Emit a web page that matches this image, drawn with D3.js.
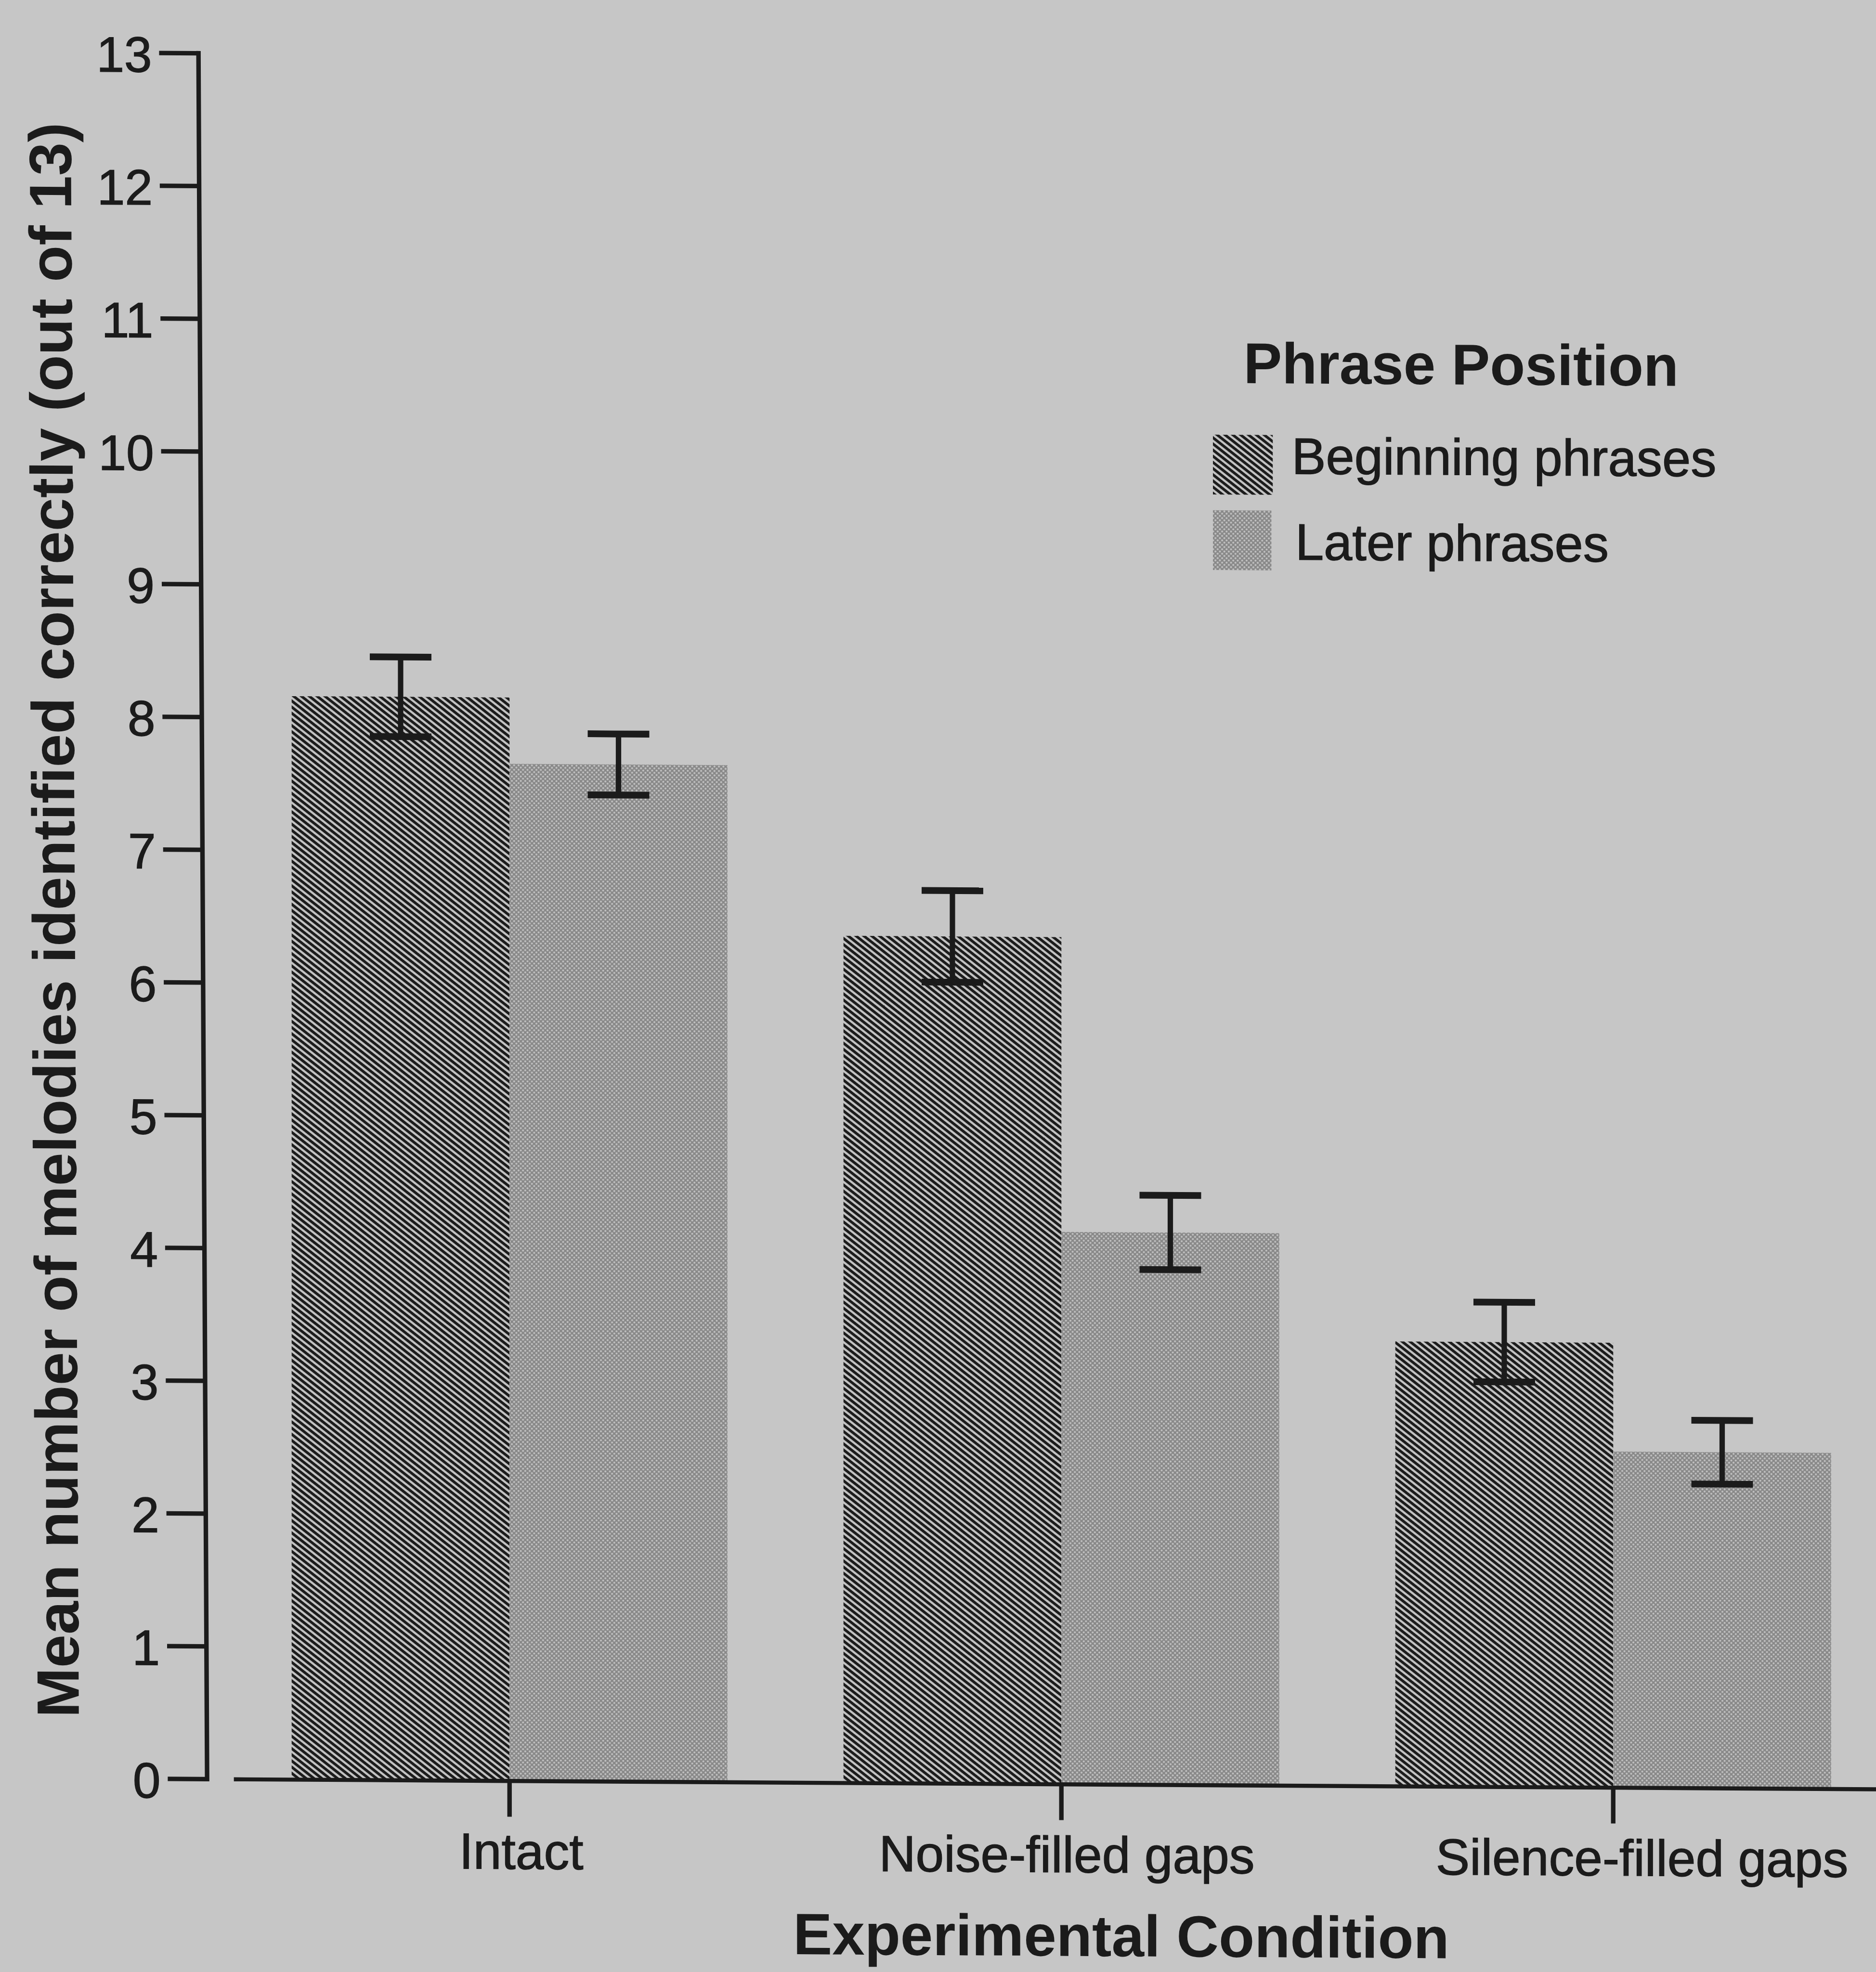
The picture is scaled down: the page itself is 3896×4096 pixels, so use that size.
<!DOCTYPE html>
<html>
<head>
<meta charset="utf-8">
<script src="https://cdn.jsdelivr.net/npm/d3@7"></script>
<style>
  html, body { margin: 0; padding: 0; background: #c6c6c6; }
  svg { display: block; }
  text { font-family: "Liberation Sans", Arial, Helvetica, sans-serif; fill: #1b1b1b; }
</style>
</head>
<body>
<script>
// data
const categories = ["Intact", "Noise-filled gaps", "Silence-filled gaps"];
const seriesNames = ["Beginning phrases", "Later phrases"];
const beginningMeans = [8.16, 6.38, 3.35];
const beginningErrors = [0.30, 0.345, 0.30];
const laterMeans = [7.66, 4.16, 2.53];
const laterErrors = [0.23, 0.28, 0.24];
const yTickValues = [0, 1, 2, 3, 4, 5, 6, 7, 8, 9, 10, 11, 12, 13];

const rows = categories.map((c, i) => ({
  category: c,
  values: [
    {series: seriesNames[0], mean: beginningMeans[i], err: beginningErrors[i]},
    {series: seriesNames[1], mean: laterMeans[i], err: laterErrors[i]}
  ]
}));

const W = 3896, H = 4096, S = 0.934;
const ink = "#1b1b1b";

const svg = d3.select("body").append("svg").attr("width", W).attr("height", H);
svg.append("rect").attr("width", W).attr("height", H).attr("fill", "#c6c6c6");

// fill patterns
const defs = svg.append("defs");
const pBegin = defs.append("pattern").attr("id", "pat-begin")
  .attr("patternUnits", "userSpaceOnUse")
  .attr("width", 40).attr("height", 10.8)
  .attr("patternTransform", "rotate(38)");
pBegin.append("rect").attr("width", 40).attr("height", 10.8).attr("fill", "#c3c3c3");
pBegin.append("rect").attr("width", 40).attr("height", 6.0).attr("fill", "#1c1c1c");

const pLater = defs.append("pattern").attr("id", "pat-later")
  .attr("patternUnits", "userSpaceOnUse")
  .attr("width", 7).attr("height", 7)
  .attr("patternTransform", "rotate(45)");
pLater.append("rect").attr("width", 7).attr("height", 7).attr("fill", "#888888");
pLater.append("circle").attr("cx", 3.5).attr("cy", 3.5).attr("r", 2.2).attr("fill", "#c2c2c2");

const fills = {"Beginning phrases": "url(#pat-begin)", "Later phrases": "url(#pat-later)"};

// everything is laid out in the reference's pixel space, then scaled
const root = svg.append("g").attr("transform", `scale(${S})`);
// the scanned page is slightly sheared
const b = 0.0061, a = 0.005;
const g = root.append("g").attr("transform", `matrix(1,${b},0,1,0,${-b * 460})`);

const y = d3.scaleLinear().domain([0, 13]).range([3956, 118]);
const x0 = d3.scaleBand().domain(categories).range([519.5, 4200.5]);
const x1 = d3.scaleBand().domain(seriesNames).range([129, 1098]);

// bars
const groups = g.selectAll(".grp").data(rows).join("g")
  .attr("class", "grp")
  .attr("transform", d => `translate(${x0(d.category)},0)`);

groups.selectAll("rect").data(d => d.values).join("rect")
  .attr("x", d => x1(d.series))
  .attr("y", d => y(d.mean))
  .attr("width", x1.bandwidth())
  .attr("height", d => y(0) - y(d.mean))
  .attr("fill", d => fills[d.series]);

// error bars
const capW = 137;
const eb = groups.selectAll(".err").data(d => d.values).join("g").attr("class", "err");
eb.append("line")
  .attr("x1", d => x1(d.series) + x1.bandwidth() / 2)
  .attr("x2", d => x1(d.series) + x1.bandwidth() / 2)
  .attr("y1", d => y(d.mean + d.err))
  .attr("y2", d => y(d.mean - d.err))
  .attr("stroke", ink).attr("stroke-width", 12);
eb.selectAll(".cap").data(d => [
    {cx: x1(d.series) + x1.bandwidth() / 2, v: d.mean + d.err},
    {cx: x1(d.series) + x1.bandwidth() / 2, v: d.mean - d.err}])
  .join("line").attr("class", "cap")
  .attr("x1", d => d.cx - capW / 2)
  .attr("x2", d => d.cx + capW / 2)
  .attr("y1", d => y(d.v))
  .attr("y2", d => y(d.v))
  .attr("stroke", ink).attr("stroke-width", 15);

// y axis (leans a little on the scan)
const yg = g.append("g")
  .attr("transform", `matrix(1,0,${a},1,${460 - a * 3956},0)`)
  .call(d3.axisLeft(y).tickValues(yTickValues).tickSize(87).tickSizeOuter(0)
    .tickPadding(16).tickFormat(d3.format("d")));
yg.attr("font-family", null);
yg.select(".domain").attr("stroke", ink).attr("stroke-width", 10).attr("stroke-linecap", "square");
yg.selectAll(".tick line").attr("stroke", ink).attr("stroke-width", 10);
yg.selectAll(".tick text").attr("font-size", 111).attr("fill", ink).attr("dy", "0.38em")
  .attr("stroke", ink).attr("stroke-width", 1.5);

yg.append("text")
  .attr("transform", `translate(${176 - 460},2048) rotate(-90)`)
  .attr("text-anchor", "middle")
  .attr("font-size", 133)
  .attr("font-weight", "bold")
  .attr("fill", ink)
  .text("Mean number of melodies identified correctly (out of 13)");

// x axis
const labelShift = {"Intact": 26, "Noise-filled gaps": 12, "Silence-filled gaps": 64};
const xg = g.append("g")
  .attr("transform", "translate(0,3956)")
  .call(d3.axisBottom(x0).tickSize(80).tickSizeOuter(0));
xg.attr("font-family", null);
xg.select(".domain").attr("stroke", ink).attr("stroke-width", 9);
xg.selectAll(".tick line").attr("stroke", ink).attr("stroke-width", 10);
xg.selectAll(".tick text")
  .attr("x", d => labelShift[d])
  .attr("y", 196).attr("dy", 0)
  .attr("font-size", 113).attr("fill", ink)
  .attr("stroke", ink).attr("stroke-width", 1.5);

g.append("text")
  .attr("x", 2493).attr("y", 4338)
  .attr("text-anchor", "middle")
  .attr("font-size", 130)
  .attr("font-weight", "bold")
  .text("Experimental Condition");

// legend
const legend = g.append("g");
legend.append("text")
  .attr("x", 2765).attr("y", 838)
  .attr("font-size", 128).attr("font-weight", "bold")
  .text("Phrase Position");

const legendRows = [
  {name: seriesNames[0], sy: 953, ty: 1039, tx: 2872, sw: 133},
  {name: seriesNames[1], sy: 1121, ty: 1230, tx: 2880, sw: 130}
];
legend.selectAll(".sw").data(legendRows).join("rect").attr("class", "sw")
  .attr("x", 2697).attr("y", d => d.sy)
  .attr("width", d => d.sw).attr("height", 133)
  .attr("fill", d => fills[d.name]);
legend.selectAll(".lt").data(legendRows).join("text").attr("class", "lt")
  .attr("x", d => d.tx).attr("y", d => d.ty)
  .attr("font-size", 114)
  .attr("stroke", ink).attr("stroke-width", 1.5)
  .text(d => d.name);
</script>
</body>
</html>
